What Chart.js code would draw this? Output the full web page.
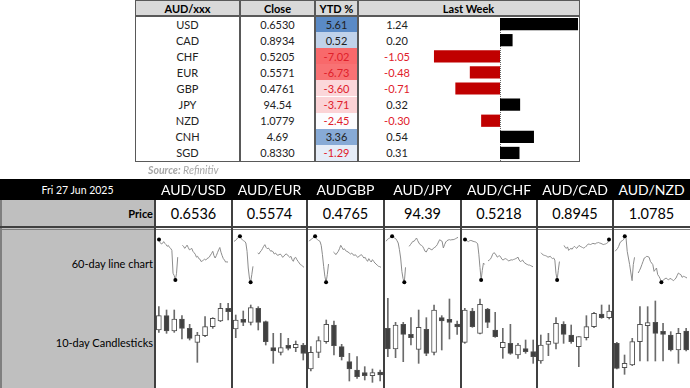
<!DOCTYPE html>
<html>
<head>
<meta charset="utf-8">
<script src="https://cdn.jsdelivr.net/npm/chart.js@4.4.1/dist/chart.umd.min.js"></script>
<style>
body { margin: 0; width: 690px; height: 388px; overflow: hidden; background: #fff; position: relative;
       font-family: Lato, "Noto Sans", sans-serif; color: #222; }
.a { position: absolute; box-sizing: border-box; }
.t { display: flex; align-items: center; justify-content: center; white-space: nowrap; }
canvas { position: absolute; }
</style>
</head>
<body>
<script>
// ---- top table ----
const currencies = ['USD', 'CAD', 'CHF', 'EUR', 'GBP', 'JPY', 'NZD', 'CNH', 'SGD'];
const closes = ['0.6530', '0.8934', '0.5205', '0.5571', '0.4761', '94.54', '1.0779', '4.69', '0.8330'];
const ytd = [5.61, 0.52, -7.02, -6.73, -3.60, -3.71, -2.45, 3.36, -1.29];
const lastWeek = [1.24, 0.20, -1.05, -0.48, -0.71, 0.32, -0.30, 0.54, 0.31];

// ---- bottom panel ----
const dateLabel = 'Fri 27 Jun 2025';
const pairs = ['AUD/USD', 'AUD/EUR', 'AUDGBP', 'AUD/JPY', 'AUD/CHF', 'AUD/CAD', 'AUD/NZD'];
const prices = ['0.6536', '0.5574', '0.4765', '94.39', '0.5218', '0.8945', '1.0785'];

// 60-day lines, relative levels (null = gap in the line)
const lineUSD = [145,135,130,132,138,132,128,122,125,118,115,108,30,22,7,30,85,null,null,null,
  125,122,115,120,126,118,110,112,115,105,100,95,85,88,80,78,70,72,75,78,
  75,80,82,85,92,98,105,90,82,90,100,110,118,102,90,80,75,68,69,68];
const lineEUR = [130,132,135,140,142,145,138,135,132,130,125,100,50,20,7,30,55,null,null,null,
  95,92,98,102,108,115,120,112,108,110,105,100,102,98,92,95,90,88,90,92,
  88,82,85,90,92,90,85,82,85,75,70,80,82,75,70,65,60,58,55,52];
const lineGBP = [130,134,136,140,142,145,138,135,132,130,118,90,55,25,7,30,62,null,null,null,
  98,95,90,95,100,108,118,112,105,108,102,100,98,95,92,95,90,88,90,85,
  82,85,88,90,85,80,82,75,70,78,72,68,75,70,65,62,58,55,54,52];
const lineJPY = [130,135,138,140,142,145,142,140,138,132,125,105,80,40,18,7,52,null,null,
  115,120,125,130,130,135,140,132,125,120,118,115,108,100,98,105,110,108,105,105,110,
  112,115,120,128,135,132,130,110,120,128,132,134,135,134,135,135,136,138,140,142];
const lineCHF = [145,142,140,138,141,142,141,139,138,137,135,130,95,50,7,40,65,60,null,null,
  72,75,78,85,95,100,98,92,85,88,90,85,78,75,78,80,78,75,72,74,
  76,75,77,78,80,82,85,75,70,72,75,68,65,62,60,58,58,56,54,52];
const lineCAD = [100,96,92,91,90,88,85,86,88,83,80,82,75,30,7,40,70,null,null,null,
  125,118,115,120,108,112,115,112,118,122,118,115,120,125,122,120,118,116,118,122,
  125,130,129,128,130,132,131,130,133,134,135,133,132,130,128,129,130,132,135,145];
const lineNZD = [100,104,108,115,125,130,132,135,145,142,100,80,60,35,12,60,82,null,null,
  35,42,50,60,70,80,82,85,84,82,70,65,60,40,45,50,30,25,18,7,12,
  15,18,20,16,15,18,18,14,12,16,20,28,35,32,30,22,25,24,22,20];

// 10-day candles [open, high, low, close], relative levels
const candleUSD = [[165,235,158,208],[208,225,155,162],[162,225,158,198],[198,208,138,170],[170,182,135,140],
  [128,158,68,150],[148,205,145,175],[175,202,170,200],[192,245,190,230],[230,245,195,220]];
const candleEUR = [[168,210,142,195],[194,222,178,188],[188,240,180,232],[230,235,165,188],[190,192,120,130],
  [112,155,65,102],[98,155,90,112],[113,140,105,110],[112,132,100,122],[120,125,75,95]];
const candleGBP = [[48,115,42,98],[98,145,82,133],[130,195,125,182],[180,192,90,118],[115,122,75,85],
  [70,95,12,48],[45,85,20,25],[32,55,15,28],[28,48,8,35],[32,45,12,30]];
const candleJPY = [[170,260,85,108],[108,188,82,180],[182,188,70,152],[152,202,120,142],[107,225,65,173],
  [167,202,88,95],[98,240,90,225],[202,208,105,192],[192,258,138,188],[177,192,152,174]];
const candleCHF = [[128,230,125,225],[222,230,173,175],[155,258,153,242],[228,230,172,188],[165,218,143,145],
  [112,170,80,128],[125,182,92,95],[90,125,80,120],[105,135,95,100],[100,135,65,85]];
const candleCAD = [[72,150,65,120],[122,155,88,130],[125,202,108,185],[182,190,125,152],[150,180,125,130],
  [115,145,55,145],[142,208,135,175],[175,218,172,215],[213,240,200,202],[202,240,198,222]];
const candleNZD = [[125,128,48,50],[52,90,32,65],[60,140,58,130],[130,235,72,182],[178,235,72,182],
  [188,252,72,155],[155,185,72,152],[150,160,102,105],[105,170,65,155],[162,170,102,105]];

const lines = [lineUSD, lineEUR, lineGBP, lineJPY, lineCHF, lineCAD, lineNZD];
const candles = [candleUSD, candleEUR, candleGBP, candleJPY, candleCHF, candleCAD, candleNZD];

function box(x, y, w, h, css, text) {
    const d = document.createElement('div');
    d.className = 'a' + (text !== undefined ? ' t' : '');
    Object.assign(d.style, { left: x + 'px', top: y + 'px', width: w + 'px', height: h + 'px' }, css || {});
    if (text !== undefined) d.textContent = text;
    document.body.appendChild(d);
    return d;
}

function makeCanvas(x, y, w, h) {
    const c = document.createElement('canvas');
    c.width = w; c.height = h;
    c.style.left = x + 'px'; c.style.top = y + 'px';
    document.body.appendChild(c);
    return c.getContext('2d');
}

// Excel-style 3 colour scale: red (min) - white (median) - blue (max)
function ytdColour(v) {
    const s = [...ytd].sort((a, b) => a - b);
    const mid = s[Math.floor(s.length / 2)];
    const white = [252, 252, 255], red = [248, 105, 107], blue = [90, 138, 198];
    let t, c;
    if (v < mid) { t = (mid - v) / (mid - s[0]); c = red; }
    else { t = (v - mid) / (s[s.length - 1] - mid); c = blue; }
    const m = white.map((w, i) => Math.round(w + (c[i] - w) * t));
    return `rgb(${m[0]},${m[1]},${m[2]})`;
}

Chart.defaults.animation = false;

// ---------- top table ----------
const rowH = 16.1;
const top0 = 16;
const fs = { fontSize: '11px' };
box(135, 0, 444, 16, { background: '#d9d9d9' });
box(135, 0, 105, 16, { ...fs, fontWeight: 'bold', color: '#000' }, 'AUD/xxx');
box(240, 0, 75, 16, { ...fs, fontWeight: 'bold', color: '#000' }, 'Close');
box(315, 0, 43, 16, { ...fs, fontWeight: 'bold', color: '#000' }, 'YTD %');
box(358, 0, 221, 16, { ...fs, fontWeight: 'bold', color: '#000' }, 'Last Week');

currencies.forEach((cur, i) => {
    const y = top0 + i * rowH;
    box(135, y, 105, rowH, fs, cur);
    box(240, y, 75, rowH, fs, closes[i]);
    box(315, y, 43, rowH, { ...fs, background: ytdColour(ytd[i]), color: ytd[i] < 0 ? '#e0202a' : '#222' },
        ytd[i].toFixed(2));
    box(358, y, 78, rowH, { ...fs, color: lastWeek[i] < 0 ? '#e0202a' : '#222' }, lastWeek[i].toFixed(2));
});

// last-week bars
const zeroLine = {
    id: 'zeroLine',
    beforeDatasetsDraw(chart) {
        const x = Math.round(chart.scales.x.getPixelForValue(0)) + 0.5;
        const a = chart.chartArea, ctx = chart.ctx;
        ctx.save();
        ctx.strokeStyle = '#666';
        ctx.lineWidth = 1;
        ctx.setLineDash([1, 1]);
        ctx.beginPath(); ctx.moveTo(x, a.top); ctx.lineTo(x, a.bottom); ctx.stroke();
        ctx.restore();
    }
};
new Chart(makeCanvas(420, top0, 159, Math.round(rowH * 9)), {
    type: 'bar',
    data: {
        labels: currencies,
        datasets: [{
            data: lastWeek,
            backgroundColor: lastWeek.map(v => v < 0 ? '#c00000' : '#000'),
            barPercentage: 0.76,
            categoryPercentage: 1
        }]
    },
    options: {
        indexAxis: 'y',
        responsive: false,
        plugins: { legend: { display: false }, tooltip: { enabled: false } },
        scales: {
            x: { display: false, min: -1.272, max: 1.256 },
            y: { display: false }
        }
    },
    plugins: [zeroLine]
});

// table borders
box(135, 0, 445, 162, { border: '1px solid #595959' });
box(135, 15, 445, 1.5, { background: '#595959' });
box(239, 0, 2, 162, { background: '#595959' });
box(314, 0, 2, 162, { background: '#595959' });
box(357, 0, 1.5, 162, { background: '#595959' });

const src = box(148, 163, 150, 14, { fontSize: '10.5px', color: '#a6a6a6', fontStyle: 'italic', justifyContent: 'flex-start' }, '');
src.innerHTML = '<b>Source:</b>&nbsp;Refinitiv';

// ---------- bottom panel ----------
const colEdges = [155, 232, 307, 384, 461, 537, 613, 690];

box(0, 179, 690, 21, { background: '#000' });
box(0, 179, 155, 21, { color: '#fff', fontSize: '10.5px' }, dateLabel);
box(0, 200, 155, 188, { background: '#bfbfbf' });
box(0, 200, 2, 188, { background: '#7f7f7f' });
box(0, 200, 153, 27, { fontSize: '11px', fontWeight: 'bold', color: '#000', justifyContent: 'flex-end' }, 'Price');
box(0, 230, 153, 66, { fontSize: '11px', color: '#000', justifyContent: 'flex-end' }, '60-day line chart');
box(0, 296, 153, 92, { fontSize: '11px', color: '#000', justifyContent: 'flex-end' }, '10-day Candlesticks');

pairs.forEach((p, i) => {
    const x = colEdges[i], w = colEdges[i + 1] - x;
    box(x, 179, w, 21, { color: '#fff', fontSize: '14px' }, p);
    box(x, 200, w, 26, { background: '#fff', color: '#000', fontSize: '14.5px' }, prices[i]);
    box(x, 230, w, 158, { background: '#fff' });

    // sparkline
    const d = lines[i];
    const vals = d.filter(v => v !== null);
    const iMax = d.indexOf(Math.max(...vals)), iMin = d.indexOf(Math.min(...vals));
    new Chart(makeCanvas(x, 230, w, 66), {
        type: 'line',
        data: {
            labels: d.map((_, k) => k),
            datasets: [{
                data: d,
                borderColor: '#8c8c8c',
                borderWidth: 1,
                spanGaps: false,
                pointRadius: d.map((_, k) => (k === iMax || k === iMin) ? 2 : 0),
                pointBackgroundColor: '#000',
                pointBorderWidth: 0
            }]
        },
        options: {
            responsive: false,
            layout: { padding: { left: 2, right: 3 } },
            plugins: { legend: { display: false }, tooltip: { enabled: false } },
            scales: { x: { display: false }, y: { display: false, min: -34, max: 164 } }
        }
    });

    // candlesticks: wick + body as floating bars
    const cd = candles[i];
    new Chart(makeCanvas(x, 296, w, 92), {
        type: 'bar',
        data: {
            labels: cd.map((_, k) => k + 1),
            datasets: [{
                data: cd.map(c => [Math.min(c[0], c[3]), Math.max(c[0], c[3])]),
                backgroundColor: cd.map(c => c[3] >= c[0] ? '#fff' : '#404040'),
                borderColor: '#505050',
                borderWidth: 1,
                borderSkipped: false,
                barThickness: 5,
                minBarLength: 3,
                grouped: false,
                order: 0
            }, {
                data: cd.map(c => [c[2], c[1]]),
                backgroundColor: '#6b6b6b',
                barThickness: 1,
                grouped: false,
                order: 1
            }]
        },
        options: {
            responsive: false,
            plugins: { legend: { display: false }, tooltip: { enabled: false } },
            scales: { x: { display: false }, y: { display: false, min: -9, max: 267 } }
        }
    });
});

// grid lines of the bottom panel
box(0, 226, 690, 2, { background: '#404040' });
box(0, 229, 690, 1, { background: '#7f7f7f' });
colEdges.slice(0, 7).forEach(x => {
    box(x - 1, 200, 2, 188, { background: '#404040' });
});
</script>
</body>
</html>
